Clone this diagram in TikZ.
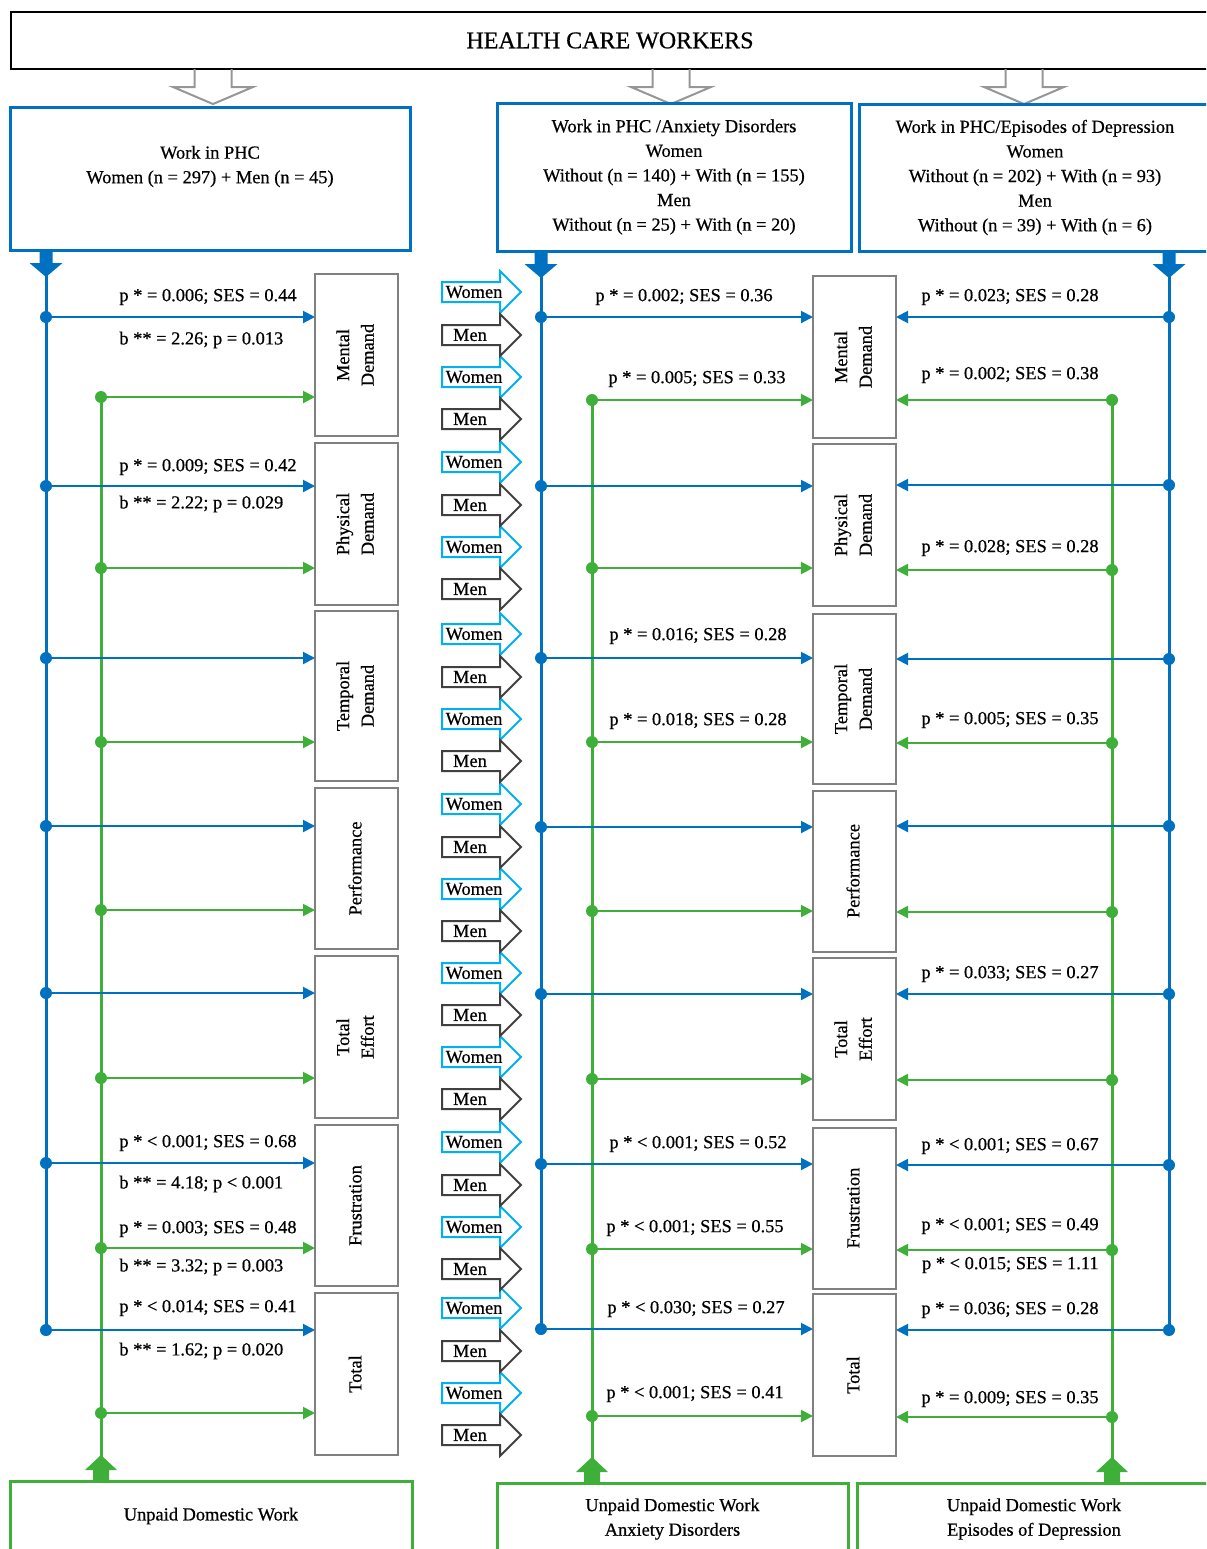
\documentclass[tikz,border=0pt]{standalone}
\usepackage{fontspec}
\setmainfont{Liberation Serif}[FakeBold=0.6]
\usetikzlibrary{arrows.meta}
\definecolor{phcblue}{RGB}{0,112,192}
\definecolor{udwgreen}{RGB}{62,176,58}
\definecolor{womencyan}{RGB}{0,176,240}
\definecolor{mengray}{RGB}{64,64,64}
\definecolor{boxgray}{RGB}{128,128,128}
\definecolor{hdrgray}{RGB}{150,150,150}
\newcommand{\vlab}[1]{\rotatebox{90}{\begin{tabular}{@{}c@{}}#1\end{tabular}}}

\begin{document}
\begin{tikzpicture}[x=0.5pt,y=-0.5pt,>={Triangle[length=6pt,width=6pt]},
  txt/.style={font=\fontsize{9.2}{12.3}\selectfont,inner sep=1pt},
  bluebox/.style={draw=phcblue,line width=1.5pt,inner sep=0pt,outer sep=0pt,align=center,txt},
  greenbox/.style={draw=udwgreen,line width=1.5pt,inner sep=0pt,outer sep=0pt,align=center,txt},
  catbox/.style={draw=boxgray,line width=1pt,inner sep=0pt,outer sep=0pt,minimum width=41.5pt,txt},
  bluearr/.style={->,phcblue,line width=1pt},
  greenarr/.style={->,udwgreen,line width=1pt},
  bluev/.style={phcblue,line width=1.5pt},
  greenv/.style={udwgreen,line width=1.5pt},
  hdrarrow/.style={hdrgray,line width=1pt,line join=miter},
  womenbox/.style={draw=womencyan,line width=1pt},
  menbox/.style={draw=mengray,line width=1pt}]
\useasboundingbox (0,0) rectangle (1206,1549);
\clip (0,0) rectangle (1206,1549);
% ---------- header and group boxes ----------
\node[draw=black,line width=1pt,minimum width=599pt,minimum height=28.5pt,inner sep=0pt,
  font=\fontsize{12}{14}\selectfont] (hcw) at (610,40.5) {HEALTH CARE WORKERS};
\foreach \cx in {213,671,1024}{
  \draw[hdrarrow,shift={(\cx,69)}] (-18.5,0) -- (-18.5,18) -- (-40,18) -- (0,35)
    -- (40,18) -- (18.5,18) -- (18.5,0);
}
\node[bluebox,minimum width=200pt,minimum height=71.5pt] (phc) at (210,178.5) {};
\node[txt,align=center] (phc-t) at (210,166.5) {Work in PHC\\Women (n = 297) + Men (n = 45)};
\node[bluebox,minimum width=177pt,minimum height=74pt] (anx) at (674,177)
  {Work in PHC /Anxiety Disorders\\Women\\Without (n = 140) + With (n = 155)\\Men\\Without (n = 25) + With (n = 20)};
\node[bluebox,minimum width=176pt,minimum height=73.5pt] (dep) at (1035,177.5)
  {Work in PHC/Episodes of Depression\\Women\\Without (n = 202) + With (n = 93)\\Men\\Without (n = 39) + With (n = 6)};
% unpaid domestic work boxes
\node[greenbox,minimum width=201pt,minimum height=35pt] (udw) at (211,1516) {Unpaid Domestic Work};
\node[greenbox,minimum width=175.5pt,minimum height=36pt] (udwa) at (672.5,1519)
  {Unpaid Domestic Work\\Anxiety Disorders};
\node[greenbox,minimum width=177pt,minimum height=36pt] (udwd) at (1034,1519)
  {Unpaid Domestic Work\\Episodes of Depression};
% ---------- NASA-TLX boxes ----------
\foreach \k/\yl/\ym/\h/\lab in {1/355/357/81/{Mental\\Demand},2/524/525/81/{Physical\\Demand},
  3/696/699/85/{Temporal\\Demand},4/868.5/871/80.5/{Performance},5/1037/1039/81/{Total\\Effort},
  6/1205.5/1208/80.5/{Frustration},7/1374/1375/81/{Total}}{
  \node[catbox,minimum height=\h pt] (l\k) at (356.5,\yl) {\vlab{\lab}};
  \node[catbox,minimum height=\h pt] (c\k) at (854.5,\ym) {\vlab{\lab}};
}
% ---------- Women / Men arrows ----------
\foreach \yy [count=\k] in {292,377,462,547,634,719,804,889,973,1057,1142,1227,1308,1393}{
  \draw[womenbox] (442,{\yy-10}) -- (500,{\yy-10}) -- (500,{\yy-21}) -- (521,\yy)
    -- (500,{\yy+21}) -- (500,{\yy+10}) -- (442,{\yy+10}) -- cycle;
  \node[txt] (w\k) at (474,\yy) {Women};
}
\foreach \yy [count=\k] in {335,419,505,589,677,761,847,931,1015,1099,1185,1269,1351,1435}{
  \draw[menbox] (442,{\yy-10}) -- (500,{\yy-10}) -- (500,{\yy-21}) -- (521,\yy)
    -- (500,{\yy+21}) -- (500,{\yy+10}) -- (442,{\yy+10}) -- cycle;
  \node[txt] (m\k) at (470,\yy) {Men};
}
% ---------- connector dots ----------
\foreach \k/\lb/\lg/\mb/\mg/\rb/\rg in {1/317/397/317/400/317/400,2/486/568/486/568/485/570,
  3/658/742/658/742/659/743,4/826/910/827/911/826/912,5/993/1078/994/1079/994/1080,
  6/1163/1248/1164/1249/1165/1250,7/1330/1413/1329/1416/1330/1417}{
  \coordinate (lb\k) at (46,\lb);   \coordinate (lg\k) at (101,\lg);
  \coordinate (mb\k) at (541,\mb);  \coordinate (mg\k) at (592,\mg);
  \coordinate (rb\k) at (1169,\rb); \coordinate (rg\k) at (1112,\rg);
}
% ---------- vertical lines and block arrows ----------
\draw[bluev] (lb1 |- phc.south) -- (lb7);
\draw[bluev] (mb1 |- anx.south) -- (mb7);
\draw[bluev] (rb1 |- dep.south) -- (rb7);
\draw[greenv] (lg1) -- (lg1 |- udw.north);
\draw[greenv] (mg1) -- (mg1 |- udwa.north);
\draw[greenv] (rg1) -- (rg1 |- udwd.north);
\foreach \p in {lb1 |- phc.south,mb1 |- anx.south,rb1 |- dep.south}{
  \fill[phcblue,shift={(\p)}] (-6.5,0) -- (6.5,0) -- (6.5,13) -- (16.5,13) -- (0,27)
    -- (-16.5,13) -- (-6.5,13) -- cycle;
}
\foreach \p in {lg1 |- udw.north,mg1 |- udwa.north,rg1 |- udwd.north}{
  \fill[udwgreen,shift={(\p)}] (-8,0) -- (8,0) -- (8,-11) -- (16,-11) -- (0,-26)
    -- (-16,-11) -- (-8,-11) -- cycle;
}
% ---------- horizontal arrows ----------
\foreach \k in {1,...,7}{
  \draw[bluearr] (lb\k) -- (lb\k -| l\k.west);
  \draw[greenarr] (lg\k) -- (lg\k -| l\k.west);
  \draw[bluearr] (mb\k) -- (mb\k -| c\k.west);
  \draw[greenarr] (mg\k) -- (mg\k -| c\k.west);
  \draw[bluearr] (rb\k) -- (rb\k -| c\k.east);
  \draw[greenarr] (rg\k) -- (rg\k -| c\k.east);
  \fill[phcblue] (lb\k) circle (3pt) (mb\k) circle (3pt) (rb\k) circle (3pt);
  \fill[udwgreen] (lg\k) circle (3pt) (mg\k) circle (3pt) (rg\k) circle (3pt);
}
% ---------- statistics ----------
\foreach \yy/\lbl [count=\k] in {297/p * = 0.006; SES = 0.44,340/b ** = 2.26; p = 0.013,
  467/p * = 0.009; SES = 0.42,504/b ** = 2.22; p = 0.029,1143/p * < 0.001; SES = 0.68,
  1184/b ** = 4.18; p < 0.001,1229/p * = 0.003; SES = 0.48,1267/b ** = 3.32; p = 0.003,
  1308/p * < 0.014; SES = 0.41,1351/b ** = 1.62; p = 0.020}{
  \node[txt,anchor=west] (ls\k) at (117,\yy) {\lbl};
}
\foreach \xx/\yy/\lbl [count=\k] in {775/297/p * = 0.002; SES = 0.36,788/379/p * = 0.005; SES = 0.33,
  789/636/p * = 0.016; SES = 0.28,789/721/p * = 0.018; SES = 0.28,789/1144/p * < 0.001; SES = 0.52,
  786/1228/p * < 0.001; SES = 0.55,787/1309/p * < 0.030; SES = 0.27,786/1394/p * < 0.001; SES = 0.41}{
  \node[txt,anchor=east] (ms\k) at (\xx,\yy) {\lbl};
}
\foreach \yy/\lbl [count=\k] in {297/p * = 0.023; SES = 0.28,375/p * = 0.002; SES = 0.38,
  548/p * = 0.028; SES = 0.28,720/p * = 0.005; SES = 0.35,974/p * = 0.033; SES = 0.27,
  1146/p * < 0.001; SES = 0.67,1226/p * < 0.001; SES = 0.49,1265/p * < 0.015; SES = 1.11,
  1310/p * = 0.036; SES = 0.28,1399/p * = 0.009; SES = 0.35}{
  \node[txt,anchor=east] (rs\k) at (1101,\yy) {\lbl};
}
\end{tikzpicture}
\end{document}
